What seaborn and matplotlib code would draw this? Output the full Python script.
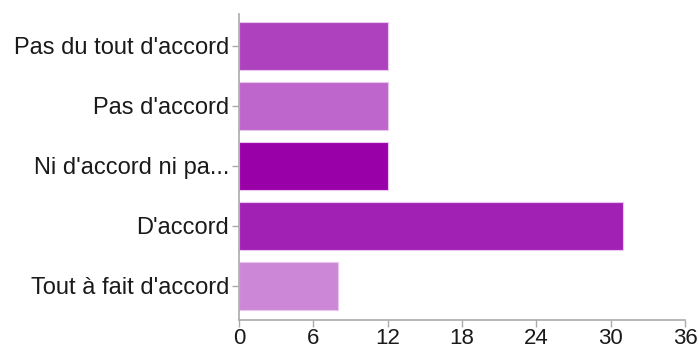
import matplotlib
matplotlib.use("Agg")
import matplotlib.pyplot as plt
import seaborn as sns
import pandas as pd

categories = ["Pas du tout d'accord", "Pas d'accord", "Ni d'accord ni pa...", "D'accord", "Tout à fait d'accord"]
values = [12, 12, 12, 31, 8]
colors = ["#AE42BE", "#BE66CB", "#9A00A8", "#A221B5", "#CC88D6"]
xticks = [0, 6, 12, 18, 24, 30, 36]

sns.set_theme(style="white")
plt.rcParams['font.family'] = ['Liberation Sans', 'DejaVu Sans']

df = pd.DataFrame({"cat": categories, "val": values})
fig = plt.figure(figsize=(7, 3.49), dpi=100)
ax = fig.add_axes([0.3414, 0.0831, 0.6372, 0.8768])
sns.barplot(data=df, y="cat", x="val", hue="cat", palette=colors, legend=False,
            orient="h", width=0.8, saturation=1, ax=ax, edgecolor="#E9C6EE", linewidth=0.8)
ax.set_xlim(0, 36)
ax.set_ylim(4.57, -0.53)
ax.set_xticks(xticks)
ax.set_xlabel("")
ax.set_ylabel("")
for s in ["top", "right"]:
    ax.spines[s].set_visible(False)
for s in ["left", "bottom"]:
    ax.spines[s].set_color("#AAAAAA")
    ax.spines[s].set_linewidth(1.2)
ax.tick_params(axis="both", which="both", length=5, width=1, color="#AAAAAA",
               labelcolor="#1A1A1A", direction="out", left=True, bottom=True)
ax.tick_params(axis="y", labelsize=17, pad=2)
ax.tick_params(axis="x", labelsize=16, pad=1)
fig.savefig("out.png", dpi=100)
